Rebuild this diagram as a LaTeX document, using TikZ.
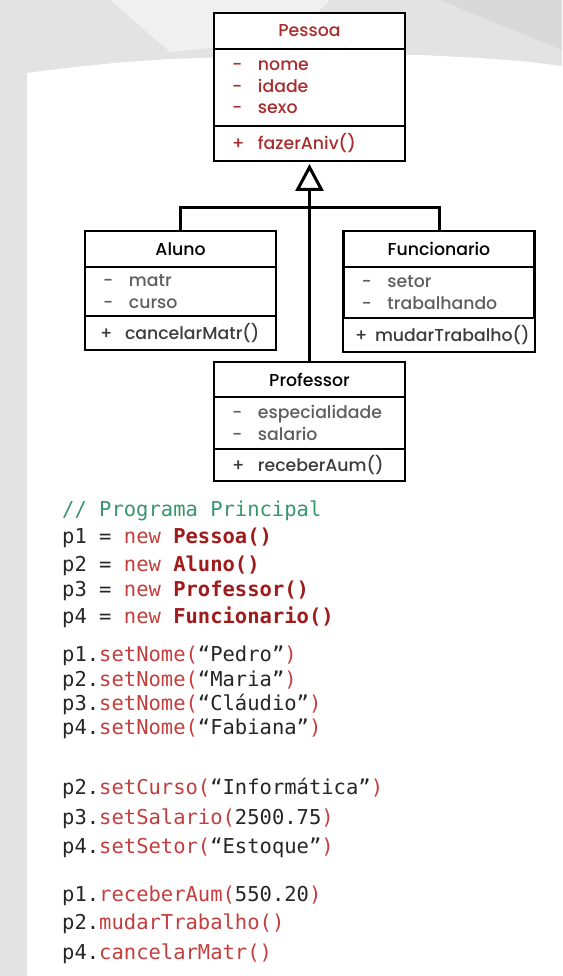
\documentclass[tikz,border=0pt]{standalone}
\usepackage{fontspec}
\setmainfont{Poppins Medium}
\newfontfamily\codefont{DejaVu Sans Mono}
\usepackage{xcolor}
\usepackage{tikz}
\usetikzlibrary{arrows.meta,positioning}

\definecolor{pessoared}{RGB}{170,45,45}
\definecolor{codered}{RGB}{196,62,62}
\definecolor{clsred}{RGB}{160,28,28}
\definecolor{codegreen}{RGB}{56,150,108}
\definecolor{codeink}{RGB}{38,38,38}
\definecolor{attrgrey}{RGB}{95,95,95}
\definecolor{opgrey}{RGB}{60,60,60}

\newcommand{\at}[1]{\makebox[26pt][l]{-}#1}
\newcommand{\op}[1]{\makebox[26pt][l]{+}#1}
\newcommand{\kw}[1]{\textcolor{codered}{#1}}
\newcommand{\cls}[1]{\textcolor{clsred}{\bfseries #1}}
\newcommand{\mth}[2]{\kw{#1(}#2\kw{)}}

\begin{document}
\begin{tikzpicture}[x=1pt,y=-1pt,font=\fontsize{17.3}{21.5}\selectfont,
  cell/.style={draw,fill=white,line width=2.6pt,outer sep=0pt,inner xsep=18pt,inner ysep=0pt,
    text width=155pt,align=left,anchor=north},
  classname/.style={cell,align=center,minimum height=36pt},
  link/.style={draw,line width=3pt},
  codeline/.style={anchor=base west,inner sep=0pt,text=codeink,font=\codefont\fontsize{20.5}{24}\selectfont}]
  \useasboundingbox (0,0) rectangle (562,976);
  % background paper
  \fill[gray!22] (0,0) rectangle (562,976);
  \fill[gray!12] (110,0) -- (330,0) -- (290,40) -- (170,52) -- cycle;
  \fill[gray!30] (440,0) -- (562,0) -- (562,50) -- cycle;
  \fill[white] (27,976) -- (27,73) -- (50,70) -- (85,66) -- (125,62) -- (170,59) -- (230,57)
    -- (330,56) -- (420,55) -- (480,58) -- (530,62) -- (562,66) -- (562,976) -- cycle;

  % classes
  \node[classname,text=pessoared] (pessoa) at (309.5,13) {Pessoa};
  \node[cell,text=pessoared,minimum height=77pt,below=0pt of pessoa] (pessoaattr) {\at{nome}\\\at{idade}\\\at{sexo}};
  \node[cell,text=pessoared,minimum height=35pt,below=0pt of pessoaattr] (pessoaop) {\op{fazerAniv()}};

  \node[classname] (aluno) at (180.5,231) {Aluno};
  \node[cell,text=attrgrey,minimum height=49pt,below=0pt of aluno] (alunoattr) {\at{matr}\\\at{curso}};
  \node[cell,text=opgrey,minimum height=34pt,below=0pt of alunoattr,inner xsep=15pt,text width=161pt] (alunoop) {\makebox[25pt][l]{+}cancelarMatr()};

  \node[classname] (funcionario) at (439,231) {Funcionario};
  \node[cell,text=attrgrey,minimum height=51pt,below=0pt of funcionario] (funcattr) {\at{setor}\\\at{trabalhando}};
  \node[cell,text=opgrey,minimum height=34pt,below=0pt of funcattr,inner xsep=12pt,text width=168pt] (funcop) {\makebox[20pt][l]{+}mudarTrabalho()};

  \node[classname,minimum height=35pt] (professor) at (309.5,362) {Professor};
  \node[cell,text=attrgrey,minimum height=52pt,below=0pt of professor] (profattr) {\at{especialidade}\\\at{salario}};
  \node[cell,text=opgrey,minimum height=32pt,below=0pt of profattr] (profop) {\op{receberAum()}};

  % inheritance
  \draw[link] (aluno.north) -- ++(0,-23) -| (funcionario.north);
  \draw[link,-{Triangle[open,length=27pt,width=28pt]},shorten >=3pt] (professor.north) -- (pessoaop.south);

  % main program
  \node[codeline,text=codegreen] (comment) at (62,516) {// Programa Principal};
  \foreach \yy/\txt [count=\k] in {
      543/{p1 = \kw{new} \cls{Pessoa()}},
      571/{p2 = \kw{new} \cls{Aluno()}},
      596/{p3 = \kw{new} \cls{Professor()}},
      623/{p4 = \kw{new} \cls{Funcionario()}},
      661/{p1.\mth{setNome}{“Pedro”}},
      686/{p2.\mth{setNome}{“Maria”}},
      710/{p3.\mth{setNome}{“Cláudio”}},
      734/{p4.\mth{setNome}{“Fabiana”}},
      794/{p2.\mth{setCurso}{“Informática”}},
      824/{p3.\mth{setSalario}{2500.75}},
      853/{p4.\mth{setSetor}{“Estoque”}},
      901/{p1.\mth{receberAum}{550.20}},
      929/{p2.\mth{mudarTrabalho}{}},
      959/{p4.\mth{cancelarMatr}{}}}
    \node[codeline] (code\k) at (62,\yy) {\txt};
\end{tikzpicture}
\end{document}
